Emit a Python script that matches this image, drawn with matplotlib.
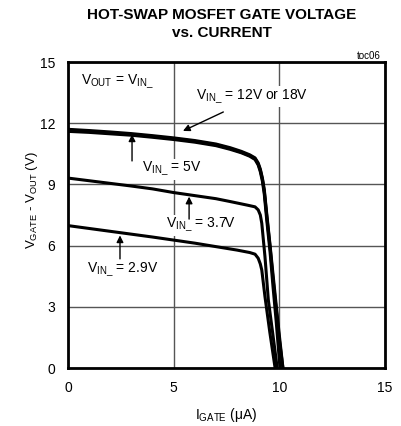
import numpy as np
import matplotlib
matplotlib.use('Agg')
import matplotlib.pyplot as plt

plt.rcParams['font.family'] = ['Liberation Sans', 'DejaVu Sans']
plt.rcParams['mathtext.fontset'] = 'custom'
plt.rcParams['mathtext.rm'] = 'Liberation Sans'
plt.rcParams['mathtext.default'] = 'regular'

# curves: I_GATE (uA) vs V_GATE - V_OUT (V)
x_hi = [0, 1, 2, 3, 4, 5, 6, 7, 7.67, 8.2, 8.6, 8.85, 9.0, 9.1, 9.2, 9.29, 9.4, 9.56, 9.7, 9.85, 10.0, 10.17]
y_18v = [11.7, 11.64, 11.57, 11.49, 11.39, 11.28, 11.15, 10.98, 10.8, 10.62, 10.45, 10.3, 10.05, 9.75, 9.3, 8.73, 7.6, 6.03, 4.6, 3.1, 1.6, 0]
y_12v = [11.66, 11.6, 11.53, 11.45, 11.35, 11.24, 11.11, 10.94, 10.76, 10.58, 10.41, 10.26, 10.0, 9.7, 9.25, 8.65, 7.5, 5.95, 4.4, 2.9, 1.4, 0]
x_5v = [0, 1, 2, 3, 4, 5, 6, 7, 7.67, 8.2, 8.6, 8.85, 9.0, 9.1, 9.2, 9.29, 9.4, 9.56, 9.7, 9.85, 10.03]
y_5v = [11.6, 11.55, 11.48, 11.41, 11.31, 11.2, 11.07, 10.9, 10.72, 10.55, 10.38, 10.22, 9.95, 9.62, 9.15, 8.5, 7.3, 5.7, 4.0, 2.3, 0]

x_37v = [0, 1, 2, 3, 4, 5, 6, 7, 7.67, 8.5, 8.85, 9.0, 9.1, 9.17, 9.32, 9.48, 9.7, 9.9]
y_37v = [9.31, 9.18, 9.05, 8.92, 8.78, 8.6, 8.45, 8.3, 8.16, 7.98, 7.9, 7.75, 7.5, 7.09, 5.46, 3.33, 1.6, 0]

x_29v = [0, 1, 2, 3, 4, 5, 6, 7, 8, 8.6, 8.85, 9.0, 9.1, 9.17, 9.32, 9.55, 9.8]
y_29v = [6.98, 6.84, 6.7, 6.56, 6.42, 6.27, 6.12, 5.95, 5.78, 5.66, 5.58, 5.38, 5.1, 4.8, 3.5, 1.75, 0]

fig = plt.figure(figsize=(4.02, 4.26), dpi=100)
ax = fig.add_axes([68/402, 58/426, 317/402, 306/426])

for xs, ys in [(x_hi, y_18v), (x_hi, y_12v), (x_5v, y_5v), (x_37v, y_37v), (x_29v, y_29v)]:
    ax.plot(xs, ys, color='k', lw=2.2, solid_capstyle='butt', zorder=3)

ax.set_xlim(0, 15)
ax.set_ylim(0, 15)
ax.set_xticks([0, 5, 10, 15])
ax.set_yticks([0, 3, 6, 9, 12, 15])
ax.grid(True, color='#555555', lw=1.0)
ax.tick_params(length=0, labelsize=10, pad=9)
for s in ax.spines.values():
    s.set_linewidth(2)

ax.set_xlabel(r'I$_{GATE}$ ($\mu$A)', fontsize=10, labelpad=8)
ax.set_ylabel(r'V$_{GATE}$ - V$_{OUT}$ (V)', fontsize=9.5, labelpad=8)
ax.yaxis.set_label_coords(-0.088, 0.55)

fig.text(0.552, 0.965, 'HOT-SWAP MOSFET GATE VOLTAGE', ha='center', va='center',
         fontsize=11, fontweight='bold')
fig.text(0.552, 0.922, 'vs. CURRENT', ha='center', va='center',
         fontsize=11, fontweight='bold')
fig.text(0.948, 0.868, 'toc06', ha='right', va='center', fontsize=7)

box = dict(facecolor='white', edgecolor='none', pad=1)
ax.text(0.6, 14.0, r'V$_{OUT}$ = V$_{IN\_}$', fontsize=10, va='center', bbox=box)
ax.text(6.05, 13.3, r'V$_{IN\_}$ = 12V or 18V', fontsize=10, va='center', bbox=box)
ax.text(3.5, 9.75, r'V$_{IN\_}$ = 5V', fontsize=10, va='center', bbox=box)
ax.text(4.65, 7.0, r'V$_{IN\_}$ = 3.7V', fontsize=10, va='center', bbox=box)
ax.text(0.9, 4.8, r'V$_{IN\_}$ = 2.9V', fontsize=10, va='center', bbox=box)

arr = dict(arrowstyle='-|>', color='k', lw=1, mutation_scale=10, shrinkA=0, shrinkB=0)
ax.annotate('', xy=(5.44, 11.62), xytext=(7.35, 12.55), arrowprops=arr)
ax.annotate('', xy=(3.03, 11.45), xytext=(3.03, 10.15), arrowprops=arr)
ax.annotate('', xy=(5.73, 8.4), xytext=(5.73, 7.3), arrowprops=arr)
ax.annotate('', xy=(2.46, 6.5), xytext=(2.46, 5.35), arrowprops=arr)

fig.savefig('out.png', dpi=100)
